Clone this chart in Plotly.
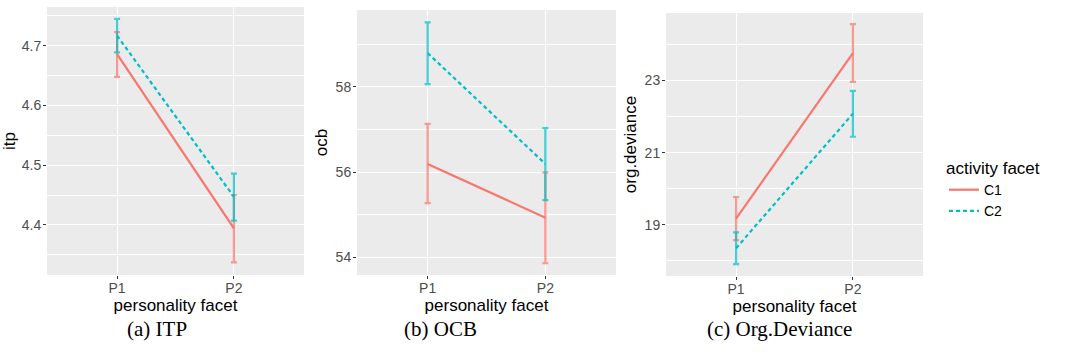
import plotly.graph_objects as go

personality = ["P1", "P2"]
groups = ["C1", "C2"]

itp_c1 = [4.686, 4.394]
itp_c1_lo = [4.648, 4.337]
itp_c1_hi = [4.723, 4.450]
itp_c2 = [4.717, 4.447]
itp_c2_lo = [4.689, 4.407]
itp_c2_hi = [4.745, 4.486]

ocb_c1 = [56.19, 54.93]
ocb_c1_lo = [55.27, 53.86]
ocb_c1_hi = [57.13, 55.99]
ocb_c2 = [58.79, 56.19]
ocb_c2_lo = [58.06, 55.34]
ocb_c2_hi = [59.51, 57.03]

dev_c1 = [19.17, 23.76]
dev_c1_lo = [18.575, 22.96]
dev_c1_hi = [19.77, 24.56]
dev_c2 = [18.35, 22.08]
dev_c2_lo = [17.91, 21.44]
dev_c2_hi = [18.79, 22.71]

y_titles = ["itp", "ocb", "org.deviance"]
captions = ["(a) ITP", "(b) OCB", "(c) Org.Deviance"]

panels = [
    [(itp_c1, itp_c1_lo, itp_c1_hi), (itp_c2, itp_c2_lo, itp_c2_hi)],
    [(ocb_c1, ocb_c1_lo, ocb_c1_hi), (ocb_c2, ocb_c2_lo, ocb_c2_hi)],
    [(dev_c1, dev_c1_lo, dev_c1_hi), (dev_c2, dev_c2_lo, dev_c2_hi)],
]

W, H = 1065, 356
x_dom_px = [(47, 304), (357, 616), (666, 923)]
y_dom_px = [(7, 275), (10, 275), (13, 276)]
y_ranges = [[4.316, 4.765], [53.585, 59.80], [17.58, 24.87]]
y_dticks = [0.1, 2, 2]
y_tick0 = [4.4, 54, 19]
y_minor = [0.05, 1, 1]
cap_x_px = [157, 440, 779]

line_colors = ["#F8766D", "#00BFC4"]
err_colors = ["rgba(248,118,109,0.72)", "rgba(0,191,196,0.72)"]
dashes = ["solid", "4px,3px"]

fig = go.Figure()

for p, panel in enumerate(panels):
    xa = "x" if p == 0 else f"x{p+1}"
    ya = "y" if p == 0 else f"y{p+1}"
    for g, (mean, lo, hi) in enumerate(panel):
        fig.add_trace(go.Scatter(
            x=personality, y=mean, xaxis=xa, yaxis=ya,
            mode="lines", name=groups[g], legendgroup=groups[g],
            showlegend=(p == 2),
            line=dict(color=line_colors[g], width=2.2, dash=dashes[g]),
            error_y=dict(type="data", symmetric=False,
                         array=[h - m for h, m in zip(hi, mean)],
                         arrayminus=[m - l for m, l in zip(mean, lo)],
                         color=err_colors[g], thickness=2.2, width=3),
        ))

layout = dict(
    width=W, height=H, autosize=False,
    margin=dict(l=0, r=0, t=0, b=0, autoexpand=False),
    paper_bgcolor="white",
    plot_bgcolor="#EBEBEB",
    font=dict(family="Liberation Sans, Arial, sans-serif", color="black"),
    showlegend=True,
    legend=dict(
        title=dict(text="activity facet", font=dict(size=17, color="black")),
        font=dict(size=14, color="black"),
        x=944 / W, y=1 - 152 / H, xanchor="left", yanchor="top",
        bgcolor="rgba(0,0,0,0)", itemwidth=30, tracegroupgap=0,
    ),
)

for p in range(3):
    xs = "xaxis" if p == 0 else f"xaxis{p+1}"
    ys = "yaxis" if p == 0 else f"yaxis{p+1}"
    xa_anchor = "y" if p == 0 else f"y{p+1}"
    ya_anchor = "x" if p == 0 else f"x{p+1}"
    x0, x1 = x_dom_px[p]
    yt, yb = y_dom_px[p]
    layout[xs] = dict(
        domain=[x0 / W, x1 / W], anchor=xa_anchor, automargin=False,
        type="category", range=[-0.6, 1.6],
        showgrid=True, gridcolor="white", gridwidth=1.1,
        zeroline=False, showline=False,
        ticks="outside", ticklen=3, tickwidth=1, tickcolor="#333333",
        ticklabelstandoff=-3,
        tickfont=dict(size=14, color="#4D4D4D"),
        title=dict(text="personality facet", font=dict(size=17, color="black"), standoff=0),
    )
    layout[ys] = dict(
        domain=[1 - yb / H, 1 - yt / H], anchor=ya_anchor, automargin=True,
        range=y_ranges[p], dtick=y_dticks[p], tick0=y_tick0[p],
        showgrid=True, gridcolor="white", gridwidth=1.1,
        zeroline=False, showline=False,
        ticks="outside", ticklen=3, tickwidth=1, tickcolor="#333333",
        ticklabelstandoff=-1,
        tickfont=dict(size=14, color="#4D4D4D"),
        minor=dict(dtick=y_minor[p], tick0=y_tick0[p], showgrid=True,
                   gridcolor="white", gridwidth=0.5, ticks=""),
        title=dict(text=y_titles[p], font=dict(size=17, color="black"), standoff=3),
    )

fig.update_layout(**layout)

for p in range(3):
    fig.add_annotation(
        text=captions[p], xref="paper", yref="paper",
        x=cap_x_px[p] / W, y=1 - 329 / H, xanchor="center", yanchor="middle",
        showarrow=False,
        font=dict(family="Liberation Serif, DejaVu Serif, serif", size=21, color="black"),
    )

fig.write_html("out.html", config={"displayModeBar": False},
               post_script="document.body.style.margin='0';")
